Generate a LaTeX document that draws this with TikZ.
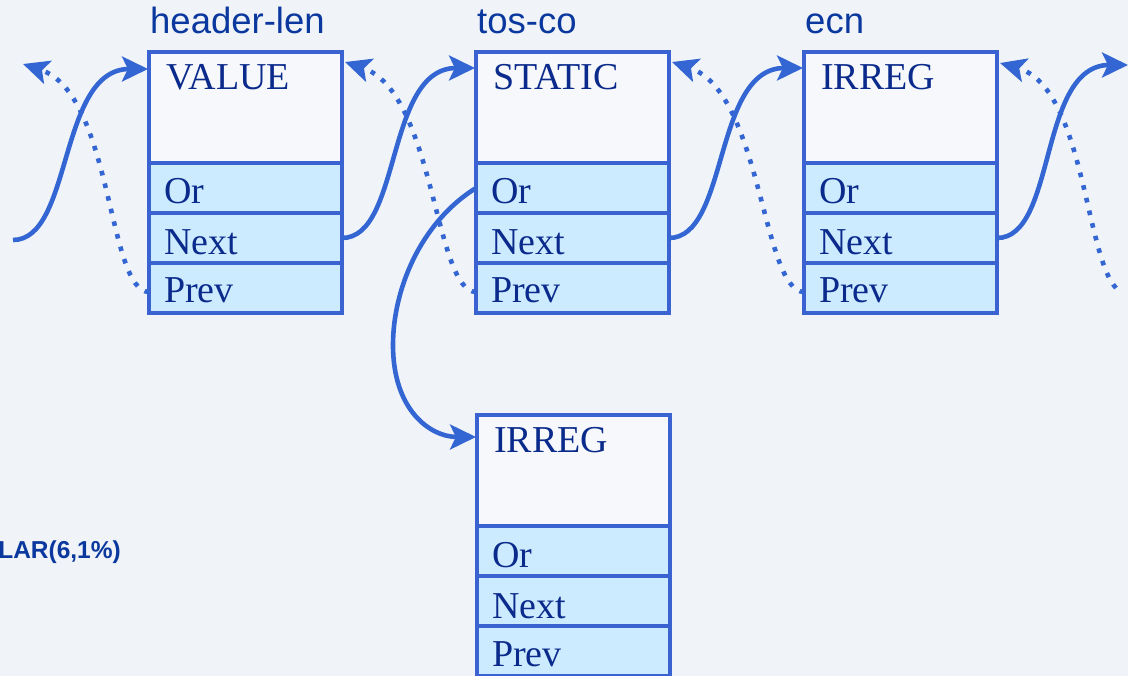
\documentclass[tikz,border=0pt]{standalone}
\usepackage{fontspec}
\setmainfont{Liberation Serif}
\newfontfamily\hfont{Liberation Sans}
\usetikzlibrary{arrows.meta,calc}
\definecolor{bgc}{HTML}{F0F4F8}
\definecolor{boxline}{HTML}{3A62D0}
\definecolor{arrc}{HTML}{3366D2}
\definecolor{txtc}{HTML}{0B2B8C}
\definecolor{hdrc}{HTML}{0A389E}
\definecolor{rowfill}{HTML}{CDEBFF}
\definecolor{valfill}{HTML}{F6F8FB}
\tikzset{
  valrow/.style={rectangle, draw=boxline, line width=3.8pt, fill=valfill, minimum width=193pt, minimum height=111pt, inner sep=0pt, outer sep=0pt, anchor=north west},
  fieldrow/.style={rectangle, draw=boxline, line width=3.8pt, fill=rowfill, minimum width=193pt, minimum height=50pt, inner sep=0pt, outer sep=0pt, anchor=north west},
  fieldtxt/.style={text=txtc, font=\fontsize{38}{40}\selectfont, inner sep=0pt, anchor=base west},
  hdr/.style={text=hdrc, font=\hfont\fontsize{36.5}{38}\selectfont, inner sep=0pt, anchor=base west},
  link/.style={draw=arrc, line width=4.6pt, -{Stealth[length=26pt,width=25pt,inset=6pt]}},
  backlink/.style={draw=arrc, line width=4.6pt, dash pattern=on 4.6pt off 8.4pt, -{Stealth[length=26pt,width=24pt,inset=6pt]}},
}
\newcommand\rohcbox[4]{%
  \node[valrow] (#1v) at (#2,#3) {};
  \node[fieldrow] (#1o) at (#1v.south west) {};
  \node[fieldrow] (#1n) at (#1o.south west) {};
  \node[fieldrow] (#1p) at (#1n.south west) {};
  \node[fieldtxt] (#1vt) at ($(#1v.north west)+(17,38)$) {#4};
  \node[fieldtxt] (#1ot) at ($(#1o.north west)+(15,41)$) {Or};
  \node[fieldtxt] (#1nt) at ($(#1n.north west)+(15,42)$) {Next};
  \node[fieldtxt] (#1pt) at ($(#1p.north west)+(15,40)$) {Prev};
}
\begin{document}
\begin{tikzpicture}[x=1pt,y=-1pt]
\fill[bgc] (0,0) rectangle (1128,676);
\useasboundingbox (0,0) rectangle (1128,676);

\rohcbox{h1}{149}{52}{VALUE}
\rohcbox{h2}{476}{52}{STATIC}
\rohcbox{h3}{804}{52}{IRREG}
\rohcbox{irr}{477}{415}{IRREG}

\node[hdr] (l1) at ($(h1v.north west)+(1,-18)$) {header-len};
\node[hdr] (l2) at ($(h2v.north west)+(1,-18)$) {tos-co};
\node[hdr] (l3) at ($(h3v.north west)+(1,-18)$) {ecn};
\node[text=hdrc, font=\hfont\bfseries\fontsize{24.5}{26}\selectfont, anchor=base east, inner sep=0pt] (lar) at (121,558) {LAR(6,1\%)};

\coordinate (inL) at (13,240);
\coordinate (outL) at (23,64);
\coordinate (outR) at (1128,65);
\coordinate (inR) at (1116,288);
\coordinate (orturn) at (393,345);

\draw[link] (inL) .. controls +(60,0) and +(-90,0) .. ($(h1v.north west)+(-1,17)$);
\draw[link] (h1n.east) .. controls +(60,0) and +(-90,0) .. ($(h2v.north west)+(-1,16)$);
\draw[link] (h2n.east) .. controls +(60,0) and +(-90,0) .. ($(h3v.north west)+(-1,16)$);
\draw[link] (h3n.east) .. controls +(60,0) and +(-90,0) .. (outR);
\draw[link] (h2o.west) .. controls +(-56,35) and +(0,-55) .. (orturn) .. controls +(0,65) and +(-46,0) .. ($(irrv.north west)+(-1,22)$);

\draw[backlink] ($(h1p.west)+(0,4)$) .. controls +(-42,-1) and +(90,30) .. (outL);
\draw[backlink] ($(h2p.west)+(0,4)$) .. controls +(-42,-1) and +(90,30) .. ($(h1v.north east)+(3,10)$);
\draw[backlink] ($(h3p.west)+(0,4)$) .. controls +(-42,-1) and +(90,30) .. ($(h2v.north east)+(3,10)$);
\draw[backlink] (inR) .. controls +(-31,-33) and +(84,24) .. ($(h3v.north east)+(3,11)$);
\end{tikzpicture}
\end{document}
